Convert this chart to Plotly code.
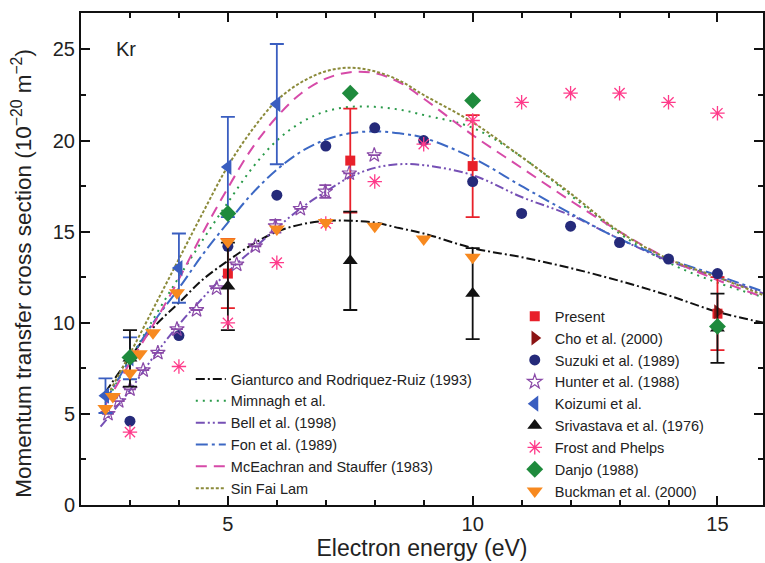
import plotly.graph_objects as go

# ---------------- theory curves (energy in eV, cross section in 1e-20 m^2) ----------------
curve_E = [2.5, 3, 3.5, 4, 4.5, 5, 5.5, 6, 6.5, 7, 7.5, 8, 8.5, 9, 10, 11, 12, 13, 14, 15, 15.95]
gianturco = [6.2, 8.1, 9.8, 11.1, 12.4, 13.4, 14.3, 15.0, 15.4, 15.6, 15.6, 15.5, 15.2, 14.9, 14.1, 13.6, 13.0, 12.3, 11.5, 10.6, 10.0]
mimnagh = [5.6, 8.0, 10.3, 12.5, 14.6, 16.6, 18.5, 20.0, 21.0, 21.6, 21.85, 21.85, 21.7, 21.4, 20.7, 19.1, 17.0, 14.9, 13.3, 12.2, 11.4]
bell_E = [2.4, 3, 3.5, 4, 4.5, 5, 5.5, 6, 6.5, 7, 7.5, 8, 8.5, 9, 10, 11, 12, 13, 14, 15, 15.95]
bell = [4.3, 6.3, 8.2, 9.9, 11.4, 12.8, 14.0, 15.2, 16.3, 17.2, 18.0, 18.5, 18.7, 18.65, 18.1, 16.9, 15.9, 14.6, 13.4, 12.5, 11.6]
fon = [5.7, 8.0, 10.1, 11.9, 13.8, 15.5, 17.1, 18.4, 19.4, 20.05, 20.4, 20.5, 20.4, 20.15, 19.05, 17.5, 16.0, 14.6, 13.5, 12.6, 11.7]
mceachran = [5.5, 7.8, 10.0, 12.4, 15.0, 17.4, 19.6, 21.3, 22.6, 23.4, 23.75, 23.7, 23.2, 22.3, 20.3, 18.5, 16.7, 15.0, 13.5, 12.35, 11.4]
sinfailam = [5.8, 8.3, 10.9, 13.5, 16.1, 18.6, 20.6, 22.2, 23.2, 23.8, 24.0, 23.8, 23.3, 22.5, 21.0, 19.1, 17.1, 15.0, 13.5, 12.5, 11.5]

# ---------------- experimental data ----------------
present_E = [5, 7.5, 10, 15]
present = [12.7, 18.9, 18.6, 10.5]
present_err = [1.9, 2.85, 2.8, 2.0]

cho_E = [15]
cho = [10.6]

suzuki_E = [3, 4, 5, 6, 7, 8, 9, 10, 11, 12, 13, 14, 15]
suzuki = [4.6, 9.3, 14.2, 17.0, 19.7, 20.7, 20.0, 17.75, 16.0, 15.3, 14.4, 13.5, 12.7]

hunter_E = [2.55, 2.77, 3.0, 3.27, 3.57, 3.96, 4.36, 4.77, 5.18, 5.56, 5.97, 6.48, 6.99, 7.48, 7.99]
hunter = [5.0, 5.7, 6.35, 7.4, 8.35, 9.65, 10.7, 11.9, 13.2, 14.2, 15.3, 16.25, 17.2, 18.2, 19.2]
hunter_err = [0, 0, 0, 0, 0, 0, 0, 0, 0, 0, 0.35, 0, 0.35, 0, 0]

koizumi_E = [2.5, 3, 4, 5, 6]
koizumi = [6.0, 8.05, 13.0, 18.55, 22.0]
koizumi_err = [0.95, 1.15, 1.9, 2.75, 3.3]

srivastava_E = [3, 5, 7.5, 10, 15]
srivastava = [8.05, 12.0, 13.4, 11.6, 9.7]
srivastava_err = [1.55, 2.4, 2.7, 2.5, 1.9]

frost_E = [3, 4, 5, 6, 7, 8, 9, 10, 11, 12, 13, 14, 15]
frost = [4.0, 7.6, 10.0, 13.3, 15.45, 17.75, 19.8, 21.1, 22.1, 22.6, 22.6, 22.1, 21.5]

danjo_E = [3, 5, 7.5, 10, 15]
danjo = [8.1, 16.0, 22.6, 22.2, 9.8]

buckman_E = [2.5, 2.65, 3.0, 3.2, 3.47, 3.96, 5, 6, 7, 8, 9, 10]
buckman = [5.3, 5.95, 7.25, 8.3, 9.45, 11.65, 14.45, 15.15, 15.5, 15.3, 14.6, 13.6]

fig = go.Figure()

# theory lines -> legend 1
lines = [
    ("Gianturco and Rodriquez-Ruiz (1993)", curve_E, gianturco, "#111111", "9px,3px,2px,3px"),
    ("Mimnagh et al.", curve_E, mimnagh, "#2a9a4a", "2px,5px"),
    ("Bell et al. (1998)", bell_E, bell, "#7650b5", "9px,3px,2px,3px,2px,3px"),
    ("Fon et al. (1989)", curve_E, fon, "#3c68c4", "12px,4px,3px,4px"),
    ("McEachran and Stauffer (1983)", curve_E, mceachran, "#d64aa8", "11px,7px"),
    ("Sin Fai Lam", curve_E, sinfailam, "#8b8a3a", "3px,2px"),
]
for name, xs, ys, col, dash in lines:
    fig.add_trace(go.Scatter(x=xs, y=ys, mode="lines", name=name,
                             line=dict(color=col, width=2, dash=dash, shape="spline", smoothing=1.0),
                             legend="legend"))

def err(arr, col, w=7):
    return dict(type="data", array=arr, visible=True, color=col, thickness=1.8, width=w)

# experimental -> legend 2
fig.add_trace(go.Scatter(x=present_E, y=present, mode="markers", name="Present", legend="legend2",
                         marker=dict(symbol="square", size=10, color="#e8202a"), error_y=err(present_err, "#e8202a")))
fig.add_trace(go.Scatter(x=cho_E, y=cho, mode="markers", name="Cho et al. (2000)", legend="legend2",
                         marker=dict(symbol="triangle-right", size=13, color="#8b1414")))
fig.add_trace(go.Scatter(x=suzuki_E, y=suzuki, mode="markers", name="Suzuki et al. (1989)", legend="legend2",
                         marker=dict(symbol="circle", size=11, color="#252a7a")))
fig.add_trace(go.Scatter(x=hunter_E, y=hunter, mode="markers", name="Hunter et al. (1988)", legend="legend2",
                         marker=dict(symbol="star-open", size=11, color="#8a4aa8", line=dict(width=1.2)),
                         error_y=err(hunter_err, "#8a4aa8", 6)))
fig.add_trace(go.Scatter(x=koizumi_E, y=koizumi, mode="markers", name="Koizumi et al.", legend="legend2",
                         marker=dict(symbol="triangle-left", size=14, color="#3a5ec0"), error_y=err(koizumi_err, "#3a5ec0")))
fig.add_trace(go.Scatter(x=srivastava_E, y=srivastava, mode="markers", name="Srivastava et al. (1976)", legend="legend2",
                         marker=dict(symbol="triangle-up", size=13, color="#111111"), error_y=err(srivastava_err, "#111111")))
fig.add_trace(go.Scatter(x=frost_E, y=frost, mode="markers", name="Frost and Phelps", legend="legend2",
                         marker=dict(symbol="asterisk-open", size=12, color="#ff3a8a", line=dict(width=1.3, color="#ff3a8a"))))
fig.add_trace(go.Scatter(x=danjo_E, y=danjo, mode="markers", name="Danjo (1988)", legend="legend2",
                         marker=dict(symbol="diamond", size=13, color="#1e8a3c")))
fig.add_trace(go.Scatter(x=buckman_E, y=buckman, mode="markers", name="Buckman et al. (2000)", legend="legend2",
                         marker=dict(symbol="triangle-down", size=14, color="#f7891f")))

font_family = "Liberation Sans, Arial, sans-serif"
fig.update_layout(
    width=765, height=563,
    margin=dict(l=81, r=0, t=13, b=58),
    paper_bgcolor="white", plot_bgcolor="white",
    font=dict(family=font_family, color="#222222", size=20),
    showlegend=True,
    legend=dict(x=0.161, y=0.2886, xanchor="left", yanchor="top", bgcolor="rgba(0,0,0,0)",
                font=dict(size=14.5, family=font_family, color="#222222"), itemwidth=30, tracegroupgap=0),
    legend2=dict(x=0.636, y=0.416, xanchor="left", yanchor="top", bgcolor="rgba(0,0,0,0)",
                 font=dict(size=14.5, family=font_family, color="#222222"), itemwidth=30, tracegroupgap=0),
    annotations=[
        dict(text="Kr", xref="paper", yref="y", x=0.048, y=25, xanchor="left", yanchor="middle",
             showarrow=False, font=dict(size=20, family=font_family, color="#222222")),
        dict(text="Momentum transfer cross section (10<sup>−20</sup> m<sup>−2</sup>)",
             xref="paper", yref="paper", x=-0.087, y=0.4715, xanchor="center", yanchor="middle",
             textangle=-90, showarrow=False, font=dict(size=22.5, family=font_family, color="#222222")),
    ],
)
fig.update_xaxes(range=[2, 15.93], tickvals=[5, 10, 15], ticks="inside", ticklen=9, tickwidth=2, tickcolor="#111",
                 showline=True, linewidth=2, linecolor="#111", mirror="ticks", showgrid=False, zeroline=False,
                 minor=dict(dtick=1, tick0=0, ticks="inside", ticklen=5, tickwidth=1.5, tickcolor="#111", showgrid=False),
                 tickfont=dict(size=20), title=dict(text="Electron energy (eV)", font=dict(size=23), standoff=5))
fig.update_yaxes(range=[0, 27], tickvals=[0, 5, 10, 15, 20, 25], ticks="inside", ticklen=9, tickwidth=2, tickcolor="#111",
                 showline=True, linewidth=2, linecolor="#111", mirror="ticks", showgrid=False, zeroline=False,
                 minor=dict(dtick=2.5, tick0=0, ticks="inside", ticklen=5, tickwidth=1.5, tickcolor="#111", showgrid=False),
                 tickfont=dict(size=20))

fig.write_html("out.html")
